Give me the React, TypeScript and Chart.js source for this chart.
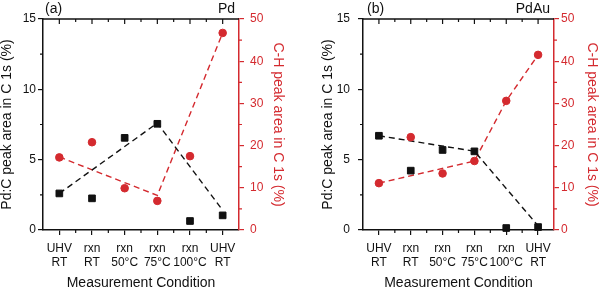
import { useEffect, useRef } from "react";
import { Chart, registerables } from "chart.js";

Chart.register(...registerables);

// Measurement conditions along the x axis (two-line labels)
const CONDITIONS = [
  ["UHV", "RT"],
  ["rxn", "RT"],
  ["rxn", "50°C"],
  ["rxn", "75°C"],
  ["rxn", "100°C"],
  ["UHV", "RT"],
];

// (a) Pd
const PD_PDC = [2.6, 2.25, 6.55, 7.55, 0.64, 1.04];
const PD_CH = [17.2, 20.8, 9.9, 6.9, 17.5, 46.7];
const PD_PDC_TREND = [2.6, null, null, 7.6, null, 1.4];
const PD_CH_TREND = [17.3, null, null, 8.2, null, 46.7];

// (b) PdAu
const PDAU_PDC = [6.7, 4.22, 5.69, 5.59, 0.14, 0.21];
const PDAU_CH = [11.1, 22.0, 13.4, 16.35, 30.6, 41.5];
const PDAU_PDC_TREND = [6.7, null, null, 5.6, null, 0.3];
const PDAU_CH_TREND = [11.1, null, null, 16.35, 30.6, 41.5];

// Axis ranges and tick marks
const PDC_MAX = 15;
const PDC_STEP = 5;
const PDC_MINOR = [2.5, 7.5, 12.5];
const CH_MAX = 50;
const CH_STEP = 10;
const CH_MINOR = [5, 15, 25, 35, 45];

const INK = "#111111";
const RED = "#d42a2f";
const FONT = "'Liberation Sans', Arial, Helvetica, sans-serif";

type Panel = {
  tag: string;
  sample: string;
  pdc: number[];
  ch: number[];
  pdcTrend: (number | null)[];
  chTrend: (number | null)[];
  leftWidth: number;
  rightWidth: number;
  leftTickPad: number;
  rightTickPad: number;
  leftTitlePad: number;
  rightTitlePad: number;
  tagInset: number;
};

const PANELS: Panel[] = [
  {
    tag: "(a)",
    sample: "Pd",
    pdc: PD_PDC,
    ch: PD_CH,
    pdcTrend: PD_PDC_TREND,
    chTrend: PD_CH_TREND,
    leftWidth: 43,
    rightWidth: 61,
    leftTickPad: 2,
    rightTickPad: 6,
    leftTitlePad: -1,
    rightTitlePad: 13.6,
    tagInset: 2,
  },
  {
    tag: "(b)",
    sample: "PdAu",
    pdc: PDAU_PDC,
    ch: PDAU_CH,
    pdcTrend: PDAU_PDC_TREND,
    chTrend: PDAU_CH_TREND,
    leftWidth: 63,
    rightWidth: 46,
    leftTickPad: 8,
    rightTickPad: 2,
    leftTitlePad: 19.6,
    rightTitlePad: 0,
    tagInset: 4,
  },
];

// Closed frame: top border, minor ticks and the panel captions
const frameMarks = {
  id: "frameMarks",
  afterDraw(chart: any, _args: any, opts: any) {
    const { ctx, chartArea: a, scales } = chart;
    const x = scales.x;
    const y = scales.y;
    const y1 = scales.y1;
    const n = x.getLabels().length;
    ctx.save();
    ctx.strokeStyle = INK;
    ctx.lineWidth = 1.5;
    ctx.beginPath();
    ctx.moveTo(a.left, a.top);
    ctx.lineTo(a.right, a.top);
    ctx.stroke();

    ctx.lineWidth = 1.2;
    ctx.beginPath();
    for (let i = 0; i < n; i++) {
      const px = x.getPixelForValue(i);
      ctx.moveTo(px, a.top);
      ctx.lineTo(px, a.top + 5);
    }
    for (let i = 0; i < n - 1; i++) {
      const px = (x.getPixelForValue(i) + x.getPixelForValue(i + 1)) / 2;
      ctx.moveTo(px, a.top);
      ctx.lineTo(px, a.top + 3);
      ctx.moveTo(px, a.bottom);
      ctx.lineTo(px, a.bottom + 3);
    }
    for (const v of PDC_MINOR) {
      const py = y.getPixelForValue(v);
      ctx.moveTo(a.left - 3, py);
      ctx.lineTo(a.left, py);
    }
    ctx.stroke();

    ctx.strokeStyle = RED;
    ctx.beginPath();
    for (const v of CH_MINOR) {
      const py = y1.getPixelForValue(v);
      ctx.moveTo(a.right, py);
      ctx.lineTo(a.right + 3, py);
    }
    ctx.stroke();

    ctx.fillStyle = INK;
    ctx.font = `14px ${FONT}`;
    ctx.textBaseline = "middle";
    ctx.textAlign = "left";
    ctx.fillText(opts.tag, a.left + opts.tagInset, 9);
    ctx.textAlign = "right";
    ctx.fillText(opts.sample, a.right - 4, 9);
    ctx.restore();
  },
};

function buildConfig(p: Panel): any {
  const tickFont = { family: FONT, size: 12, lineHeight: 1.13 };
  const titleFont = { family: FONT, size: 14 };
  return {
    type: "line",
    data: {
      labels: CONDITIONS,
      datasets: [
        {
          data: p.pdc,
          yAxisID: "y",
          showLine: false,
          pointStyle: "rect",
          pointRadius: 4.7,
          pointBackgroundColor: INK,
          pointBorderColor: INK,
          pointBorderWidth: 1,
          clip: false,
        },
        {
          data: p.ch,
          yAxisID: "y1",
          showLine: false,
          pointStyle: "circle",
          pointRadius: 3.8,
          pointBackgroundColor: RED,
          pointBorderColor: RED,
          pointBorderWidth: 1,
          clip: false,
        },
        {
          data: p.pdcTrend,
          yAxisID: "y",
          borderColor: INK,
          borderWidth: 1.4,
          borderDash: [6, 4],
          pointRadius: 0,
          spanGaps: true,
          fill: false,
          tension: 0,
          clip: false,
        },
        {
          data: p.chTrend,
          yAxisID: "y1",
          borderColor: RED,
          borderWidth: 1.4,
          borderDash: [6, 4],
          pointRadius: 0,
          spanGaps: true,
          fill: false,
          tension: 0,
          clip: false,
        },
      ],
    },
    options: {
      responsive: false,
      maintainAspectRatio: false,
      animation: false,
      events: [],
      layout: { padding: { top: 19, left: 0, right: 0, bottom: 0 } },
      plugins: {
        legend: { display: false },
        tooltip: { enabled: false },
        frameMarks: { tag: p.tag, sample: p.sample, tagInset: p.tagInset },
      },
      scales: {
        x: {
          type: "category",
          position: "bottom",
          offset: true,
          grid: {
            display: true,
            drawOnChartArea: false,
            drawTicks: true,
            tickLength: 5,
            color: INK,
            lineWidth: 1.2,
          },
          border: { display: true, color: INK, width: 1.5 },
          ticks: {
            color: INK,
            font: tickFont,
            padding: 7,
            maxRotation: 0,
            autoSkip: false,
          },
          title: {
            display: true,
            text: "Measurement Condition",
            color: INK,
            font: titleFont,
            padding: { top: 0, bottom: 2 },
          },
          afterFit: (s: any) => {
            s.height = 64;
          },
        },
        y: {
          position: "left",
          min: 0,
          max: PDC_MAX,
          grid: {
            display: true,
            drawOnChartArea: false,
            drawTicks: true,
            tickLength: 5,
            color: INK,
            lineWidth: 1.2,
          },
          border: { display: true, color: INK, width: 1.5 },
          ticks: {
            stepSize: PDC_STEP,
            color: INK,
            font: tickFont,
            padding: p.leftTickPad,
          },
          title: {
            display: true,
            text: "Pd:C peak area in C 1s (%)",
            color: INK,
            font: titleFont,
            padding: { top: p.leftTitlePad, bottom: 0 },
          },
          afterFit: (s: any) => {
            s.width = p.leftWidth;
          },
        },
        y1: {
          position: "right",
          min: 0,
          max: CH_MAX,
          grid: {
            display: true,
            drawOnChartArea: false,
            drawTicks: true,
            tickLength: 5,
            color: RED,
            lineWidth: 1.2,
          },
          border: { display: true, color: RED, width: 1.5 },
          ticks: {
            stepSize: CH_STEP,
            color: RED,
            font: tickFont,
            padding: p.rightTickPad,
          },
          title: {
            display: true,
            text: "C-H peak area in C 1s (%)",
            color: RED,
            font: titleFont,
            padding: { top: p.rightTitlePad, bottom: 0 },
          },
          afterFit: (s: any) => {
            s.width = p.rightWidth;
          },
        },
      },
    },
    plugins: [frameMarks],
  };
}

function PanelChart({ panel, left }: { panel: Panel; left: number }) {
  const ref = useRef<HTMLCanvasElement | null>(null);
  useEffect(() => {
    if (!ref.current) return;
    const chart = new Chart(ref.current, buildConfig(panel));
    return () => chart.destroy();
  }, [panel]);
  return (
    <canvas
      ref={ref}
      width={300}
      height={294}
      style={{ position: "absolute", left, top: 0, width: 300, height: 294 }}
    />
  );
}

export default function App() {
  return (
    <div
      style={{
        position: "fixed",
        left: 0,
        top: 0,
        width: 600,
        height: 294,
        background: "#ffffff",
      }}
    >
      <PanelChart panel={PANELS[0]} left={0} />
      <PanelChart panel={PANELS[1]} left={300} />
    </div>
  );
}
